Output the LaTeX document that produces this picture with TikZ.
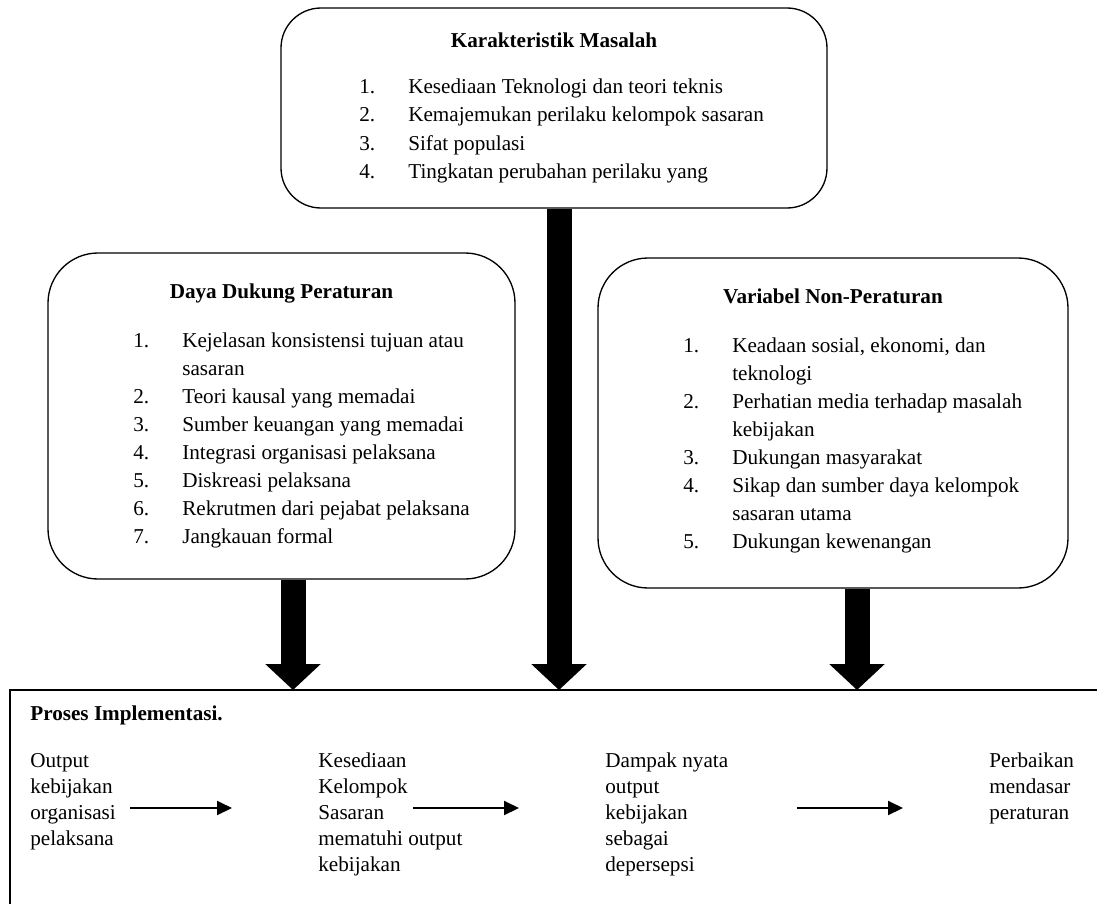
\documentclass[tikz,border=0pt]{standalone}
\usepackage{fontspec}
\setmainfont{Liberation Serif}
\usetikzlibrary{arrows.meta}
\begin{document}
\begin{tikzpicture}[x=0.6pt,y=-0.6pt,
    kotak/.style={draw=black, line width=0.8pt, rounded corners=#1, inner sep=0pt},
    judul/.style={font=\fontsize{12.7}{14}\selectfont\bfseries, inner sep=0pt, anchor=base},
    daftar/.style={font=\fontsize{12.7}{#1}\selectfont, inner sep=0pt, anchor=base west},
    panah/.style={line width=15pt, -{Triangle[length=15.6pt,width=32.4pt]}},
    alir/.style={line width=1.2pt, -{Triangle[length=9pt,width=8.4pt]}}]
    \useasboundingbox (0,0) rectangle (1097,904);
    % kotak atas
    \node [kotak=24pt, minimum width=327.6pt, minimum height=120pt] (masalah) at (554,108) {};
    \node [judul] (masalahjudul) at (554,47) {Karakteristik Masalah};
    \node [daftar=17.1pt] (masalahisi) at (359,93) {\begin{tabular}[t]{@{}p{29.4pt}@{}l@{}}
        1. & Kesediaan Teknologi dan teori teknis\\
        2. & Kemajemukan perilaku kelompok sasaran\\
        3. & Sifat populasi\\
        4. & Tingkatan perubahan perilaku yang
        \end{tabular}};
    % kotak kiri
    \node [kotak=30pt, minimum width=280.2pt, minimum height=195.6pt] (dukung) at (281.5,416) {};
    \node [judul] (dukungjudul) at (281.5,298) {Daya Dukung Peraturan};
    \node [daftar=16.8pt] (dukungisi) at (133,347) {\begin{tabular}[t]{@{}p{29.4pt}@{}l@{}}
        1. & Kejelasan konsistensi tujuan atau\\
           & sasaran\\
        2. & Teori kausal yang memadai\\
        3. & Sumber keuangan yang memadai\\
        4. & Integrasi organisasi pelaksana\\
        5. & Diskreasi pelaksana\\
        6. & Rekrutmen dari pejabat pelaksana\\
        7. & Jangkauan formal
        \end{tabular}};
    % kotak kanan
    \node [kotak=30pt, minimum width=282pt, minimum height=198pt] (nonperaturan) at (833,423) {};
    \node [judul] (nonperaturanjudul) at (833,303) {Variabel Non-Peraturan};
    \node [daftar=16.8pt] (nonperaturanisi) at (683,352) {\begin{tabular}[t]{@{}p{29.4pt}@{}l@{}}
        1. & Keadaan sosial, ekonomi, dan\\
           & teknologi\\
        2. & Perhatian media terhadap masalah\\
           & kebijakan\\
        3. & Dukungan masyarakat\\
        4. & Sikap dan sumber daya kelompok\\
           & sasaran utama\\
        5. & Dukungan kewenangan
        \end{tabular}};
    % proses implementasi
    \node [inner sep=0pt, minimum width=654pt, minimum height=132pt, anchor=north west] (proses) at (10,690) {};
    \draw [black, line width=1pt] (proses.south west) -- (proses.north west) -- (proses.north east);
    \node [judul, anchor=base west] (prosesjudul) at (30,720) {Proses Implementasi.};
    \node [daftar=15.6pt] (output) at (30,767) {\begin{tabular}[t]{@{}l@{}}
        Output\\ kebijakan\\ organisasi\\ pelaksana\end{tabular}};
    \node [daftar=15.6pt] (kesediaan) at (318,767) {\begin{tabular}[t]{@{}l@{}}
        Kesediaan\\ Kelompok\\ Sasaran\\ mematuhi output\\ kebijakan\end{tabular}};
    \node [daftar=15.6pt] (dampak) at (605,767) {\begin{tabular}[t]{@{}l@{}}
        Dampak nyata\\ output\\ kebijakan\\ sebagai\\ depersepsi\end{tabular}};
    \node [daftar=15.6pt] (perbaikan) at (989,767) {\begin{tabular}[t]{@{}l@{}}
        Perbaikan\\ mendasar\\ peraturan\end{tabular}};
    \coordinate (alir1a) at (130,808);
    \coordinate (alir1b) at (232,808);
    \coordinate (alir2a) at (413,808);
    \coordinate (alir2b) at (519,808);
    \coordinate (alir3a) at (797,808);
    \coordinate (alir3b) at (903,808);
    \draw [alir] (alir1a) -- (alir1b);
    \draw [alir] (alir2a) -- (alir2b);
    \draw [alir] (alir3a) -- (alir3b);
    % panah tebal
    \draw [panah] ([xshift=6.9pt]dukung.south) -- ([xshift=6.9pt]dukung.south |- proses.north);
    \draw [panah] ([xshift=3pt]masalah.south) -- ([xshift=3pt]masalah.south |- proses.north);
    \draw [panah] ([xshift=14.4pt]nonperaturan.south) -- ([xshift=14.4pt]nonperaturan.south |- proses.north);
\end{tikzpicture}
\end{document}
